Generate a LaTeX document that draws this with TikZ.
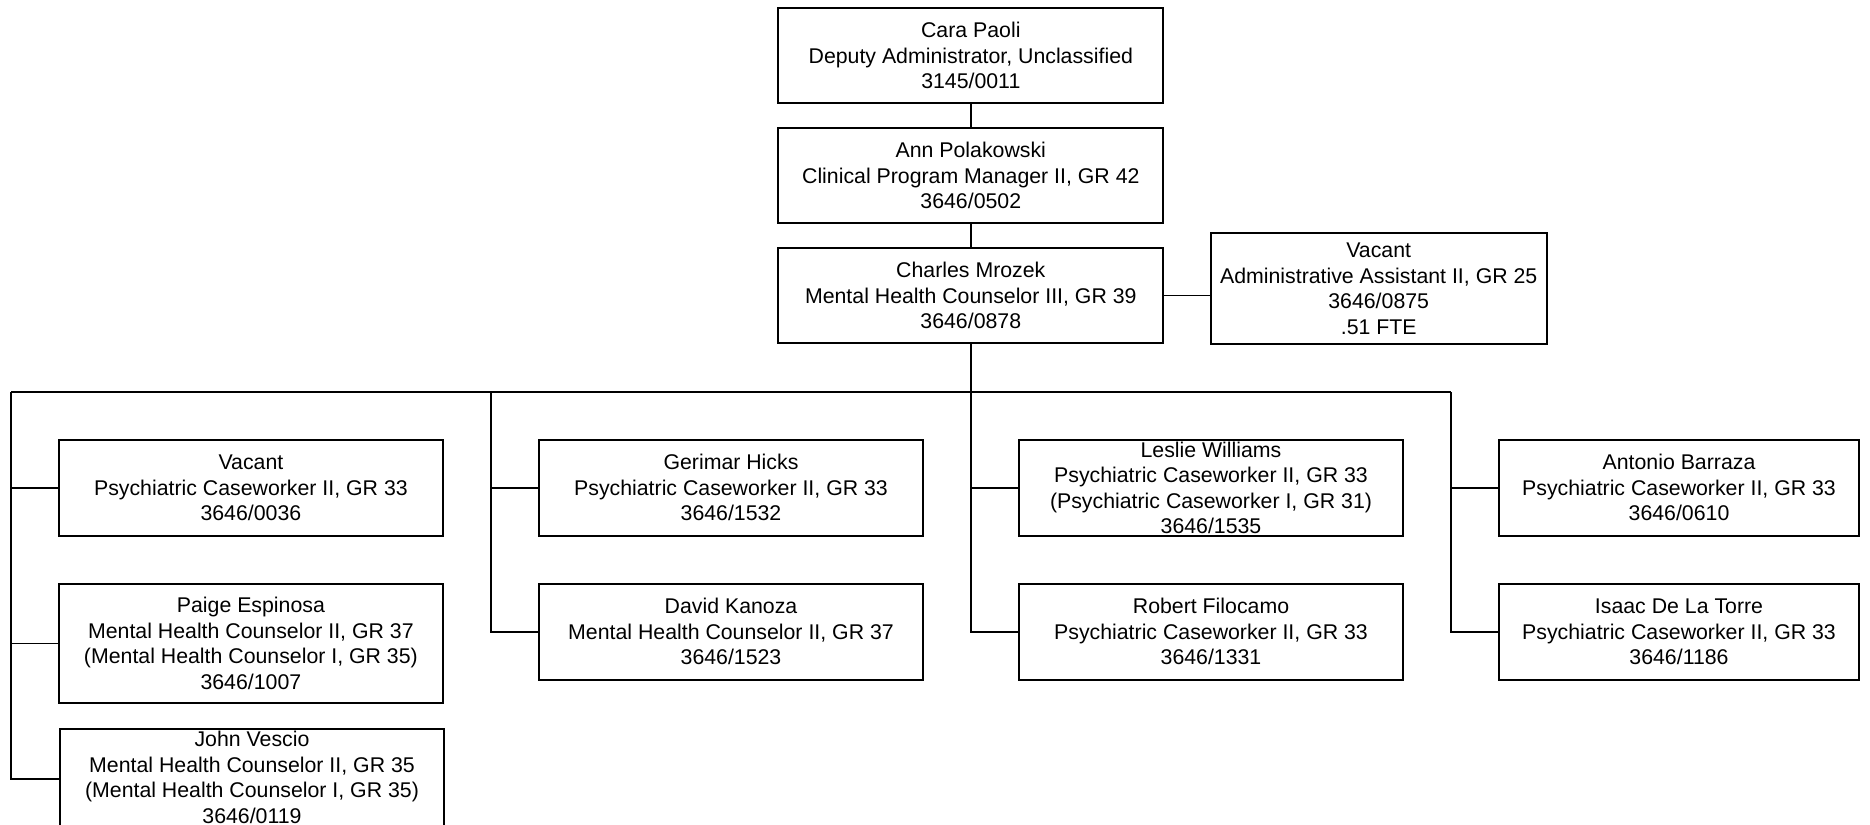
\documentclass[tikz,border=0pt]{standalone}
\usepackage{fontspec}
\setmainfont{Liberation Sans}
\begin{document}
\begin{tikzpicture}[x=1pt,y=-1pt,
  box/.style={draw=black,line width=1.8pt,inner sep=0pt,align=center,
    font=\fontsize{21.3}{25.5}\selectfont,minimum width=384.6pt},
  link/.style={draw=black,line width=1.8pt}]
\clip (0,0) rectangle (1870,824);
\useasboundingbox (0,0) rectangle (1870,824);
\fill[white] (0,0) rectangle (1870,824);
% top chain
\node[box,minimum width=385pt,minimum height=95pt] (cara) at (970.8,55.8)
  {Cara Paoli\\Deputy Administrator, Unclassified\\3145/0011};
\node[box,minimum width=385pt,minimum height=95.6pt] (ann) at (970.8,175.5)
  {Ann Polakowski\\Clinical Program Manager II, GR 42\\3646/0502};
\node[box,minimum width=385pt,minimum height=95.6pt] (charles) at (970.8,295.5)
  {Charles Mrozek\\Mental Health Counselor III, GR 39\\3646/0878};
\node[box,minimum width=336pt,minimum height=111pt] (admin) at (1378.7,288.8)
  {Vacant\\Administrative Assistant II, GR 25\\3646/0875\\.51 FTE};
% column 1
\node[box,minimum height=95.7pt] (v1) at (250.9,487.8)
  {Vacant\\Psychiatric Caseworker II, GR 33\\3646/0036};
\node[box,minimum height=119.6pt] (paige) at (250.9,643.5)
  {Paige Espinosa\\Mental Health Counselor II, GR 37\\(Mental Health Counselor I, GR 35)\\3646/1007};
\node[box,minimum height=97pt] (john) at (252,777.5)
  {John Vescio\\Mental Health Counselor II, GR 35\\(Mental Health Counselor I, GR 35)\\3646/0119};
% column 2
\node[box,minimum height=95.7pt] (hicks) at (731,487.8)
  {Gerimar Hicks\\Psychiatric Caseworker II, GR 33\\3646/1532};
\node[box,minimum height=96.3pt] (kanoza) at (731,631.8)
  {David Kanoza\\Mental Health Counselor II, GR 37\\3646/1523};
% column 3
\node[box,minimum height=95.7pt] (leslie) at (1211,487.8)
  {Leslie Williams\\Psychiatric Caseworker II, GR 33\\(Psychiatric Caseworker I, GR 31)\\3646/1535};
\node[box,minimum height=96.3pt] (robert) at (1211,631.8)
  {Robert Filocamo\\Psychiatric Caseworker II, GR 33\\3646/1331};
% column 4
\node[box,minimum width=360.6pt,minimum height=95.7pt] (antonio) at (1679,487.8)
  {Antonio Barraza\\Psychiatric Caseworker II, GR 33\\3646/0610};
\node[box,minimum width=360.6pt,minimum height=96.3pt] (isaac) at (1679,631.8)
  {Isaac De La Torre\\ Psychiatric Caseworker II, GR 33\\3646/1186};
% bus coordinates
\coordinate (b1) at (11,392.3);
\coordinate (b2) at (491,392.3);
\coordinate (b3) at (971,392.3);
\coordinate (b4) at (1451,392.3);
% connectors
\draw[link] (cara) -- (ann);
\draw[link] (ann) -- (charles);
\draw[link] (charles.east) -- (admin.west |- charles.east);
\draw[link] (charles.south) -- (charles.south |- b3);
\draw[link] (b1) -- (b4);
\draw[link] (b1) |- (v1.west);
\draw[link] (b1) |- (paige.west);
\draw[link] (b1) |- ([yshift=-1.8pt]john.west);
\draw[link] (b2) |- (hicks.west);
\draw[link] (b2) |- (kanoza.west);
\draw[link] (b3) |- (leslie.west);
\draw[link] (b3) |- (robert.west);
\draw[link] (b4) |- (antonio.west);
\draw[link] (b4) |- (isaac.west);
\end{tikzpicture}
\end{document}
